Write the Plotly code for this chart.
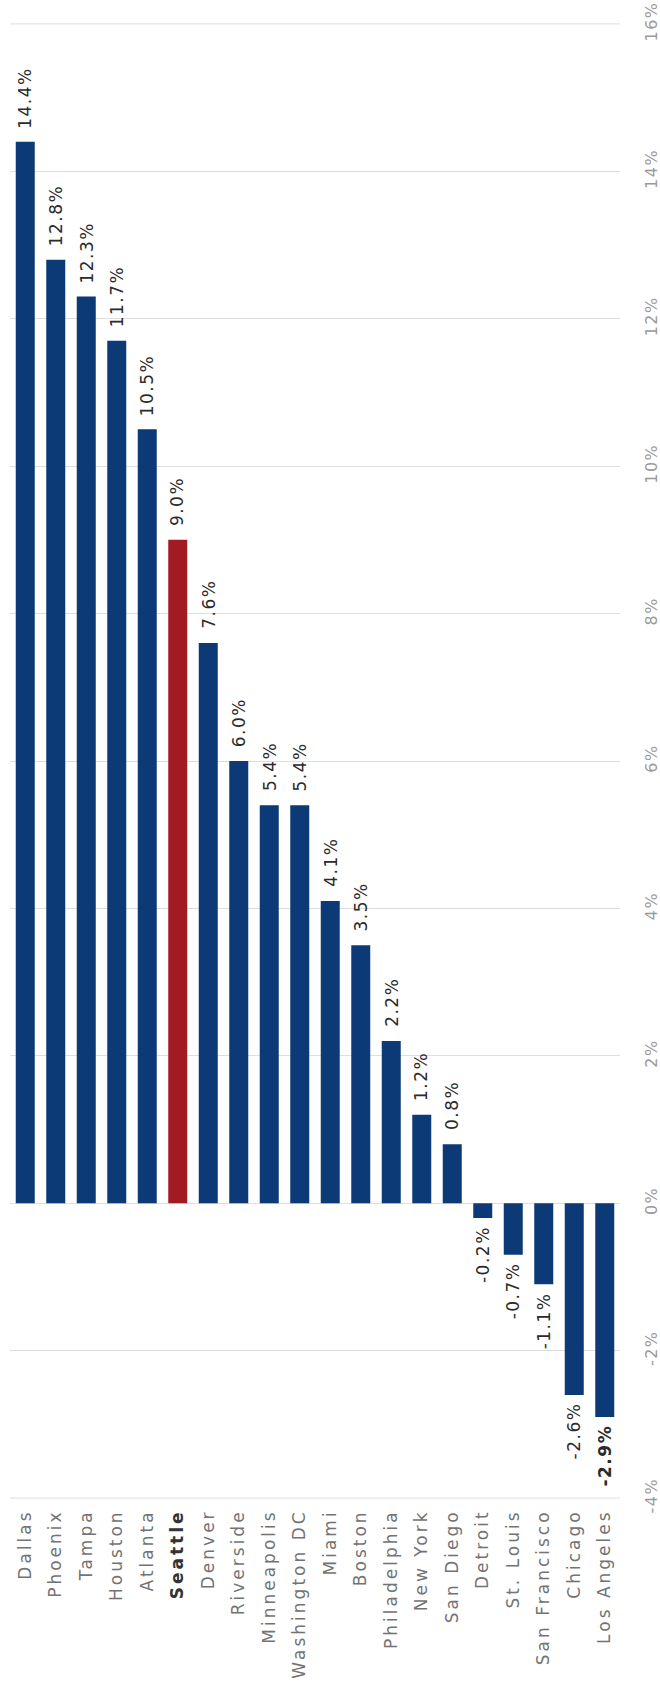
import plotly.graph_objects as go

# Metro areas, ordered by change
cities = ["Dallas", "Phoenix", "Tampa", "Houston", "Atlanta", "Seattle", "Denver",
          "Riverside", "Minneapolis", "Washington DC", "Miami", "Boston",
          "Philadelphia", "New York", "San Diego", "Detroit", "St. Louis",
          "San Francisco", "Chicago", "Los Angeles"]
change_pct = [14.4, 12.8, 12.3, 11.7, 10.5, 9.0, 7.6, 6.0, 5.4, 5.4, 4.1, 3.5,
              2.2, 1.2, 0.8, -0.2, -0.7, -1.1, -2.6, -2.9]
highlight = "Seattle"
bold_label = "Los Angeles"
tick_vals = [-4, -2, 0, 2, 4, 6, 8, 10, 12, 14, 16]
tick_text = ["-4%", "-2%", "0%", "2%", "4%", "6%", "8%", "10%", "12%", "14%", "16%"]

NAVY = "#0b3a76"
RED = "#a31b22"
FONT = "DejaVu Sans"
GRID = "#dedede"

colors = [RED if c == highlight else NAVY for c in cities]
cat_labels = [f"<b><span style='color:#333'>{c}</span></b>" if c == highlight else c
              for c in cities]

fig = go.Figure(go.Bar(x=cities, y=change_pct, marker=dict(color=colors, line=dict(width=0)),
                       hoverinfo="skip"))

# value labels just beyond each bar end
for c, v in zip(cities, change_pct):
    txt = f"{v:.1f}%"
    if c == bold_label:
        txt = f"<b>{txt}</b>"
    fig.add_annotation(x=c, y=v, text=txt, textangle=-90, showarrow=False,
                       xanchor="center", yanchor="bottom" if v >= 0 else "top",
                       yshift=15 if v >= 0 else -10,
                       font=dict(family=FONT, size=17, color="#2b2b2b"))

# gridlines at the two ends of the value range
for yv in (tick_vals[0], tick_vals[-1]):
    fig.add_shape(type="line", xref="paper", x0=0, x1=1, y0=yv, y1=yv,
                  line=dict(color=GRID, width=1), layer="below")

fig.update_layout(
    width=660, height=1690,
    margin=dict(l=10, r=40, t=23, b=191, autoexpand=False),
    paper_bgcolor="white", plot_bgcolor="white",
    bargap=0.377, showlegend=False,
    font=dict(family=FONT),
    xaxis=dict(tickmode="array", tickvals=cities, ticktext=cat_labels, tickangle=-90,
               tickfont=dict(family=FONT, size=17, color="#737373"),
               showgrid=False, showline=False, ticks="", ticklabelstandoff=6,
               automargin=False, fixedrange=True),
    yaxis=dict(range=[-4.012, 16.012], side="right", tickmode="array", tickvals=tick_vals,
               ticktext=tick_text, tickangle=-90,
               tickfont=dict(family=FONT, size=16, color="#9a9a9a"),
               showgrid=True, gridcolor=GRID, gridwidth=1,
               zeroline=True, zerolinecolor=GRID, zerolinewidth=1,
               showline=False, ticks="", ticklabelstandoff=20,
               automargin=False, fixedrange=True),
)

# tracked lettering for the category and value labels
post = """
var gd = document.getElementById('{plot_id}');
gd.querySelectorAll('.xtick text').forEach(function(t){ t.style.letterSpacing = '3px'; });
gd.querySelectorAll('.ytick text').forEach(function(t){ t.style.letterSpacing = '1.5px'; });
gd.querySelectorAll('.annotation-text').forEach(function(t){ t.style.letterSpacing = '1.5px'; });
"""

fig.write_html("out.html", post_script=post, config={"displayModeBar": False})
